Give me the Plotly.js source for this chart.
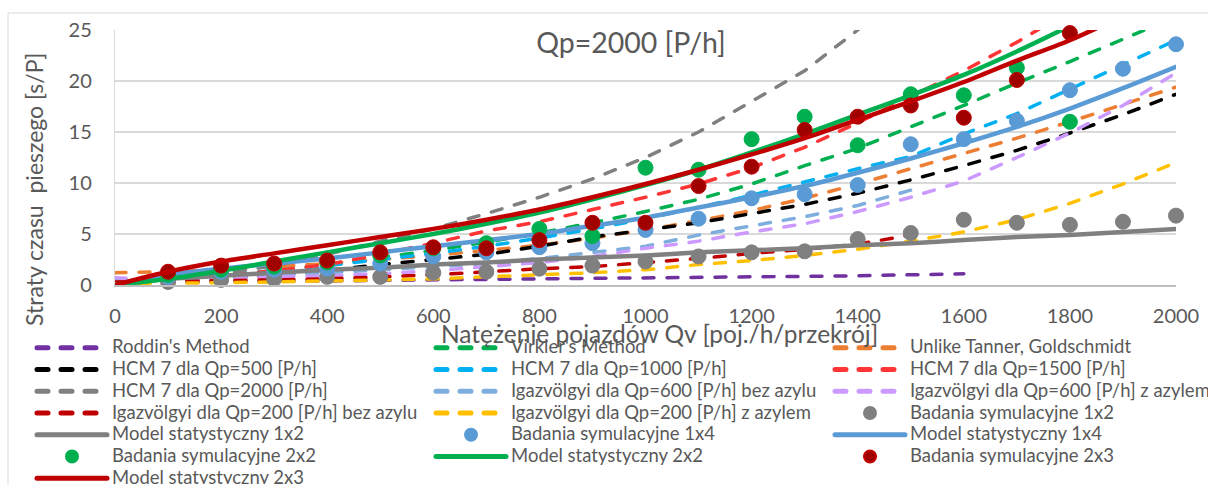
<!DOCTYPE html>
<html>
<head>
<meta charset="utf-8">
<script src="https://cdn.plot.ly/plotly-3.0.1.min.js"></script>
<style>
html,body{margin:0;padding:0;background:#fff;}
#chart{width:1208px;height:484px;}
path.js-line{stroke-linecap:round;}
</style>
</head>
<body>
<div id="chart"></div>
<script>
// ---- data ----
const xFull = [0,100,200,300,400,500,600,700,800,900,1000,1100,1200,1300,1400,1500,1600,1700,1800,1900,2000];
const xTo1600 = [0,100,200,300,400,500,600,700,800,900,1000,1100,1200,1300,1400,1500,1600];
const xTo1500 = [0,100,200,300,400,500,600,700,800,900,1000,1100,1200,1300,1400,1500];
const xPts = [100,200,300,400,500,600,700,800,900,1000,1100,1200,1300,1400,1500,1600,1700,1800,1900,2000];
const xPts1800 = [100,200,300,400,500,600,700,800,900,1000,1100,1200,1300,1400,1500,1600,1700,1800];

const roddin = [0.2,0.25,0.3,0.35,0.4,0.42,0.45,0.5,0.55,0.6,0.65,0.7,0.78,0.85,0.9,1.0,1.1];
const virkler = [0,0.4,0.9,1.4,2.0,2.7,3.4,4.2,5.1,6.1,7.2,8.4,9.9,11.7,13.4,15.5,17.6,19.8,21.9,24.1,26.3];
const unlikeTanner = [1.2,1.3,1.5,1.8,2.1,2.5,2.9,3.4,3.9,4.6,5.4,6.3,7.3,8.5,9.9,11.4,12.9,14.4,16.0,17.7,19.4];
const hcm500 = [0.2,0.4,0.6,0.9,1.4,2.0,2.5,3.0,3.8,4.7,5.4,6.1,7.0,7.9,9.0,10.3,11.7,13.2,14.9,16.7,18.7];
const hcm1000 = [0.3,0.6,1.0,1.4,1.9,2.5,3.1,3.8,4.6,5.5,6.5,7.6,8.8,10.1,11.4,12.6,14.8,16.8,19.2,21.6,24.0];
const hcm1500 = [0.1,0.5,0.9,1.4,2.0,3.0,4.1,5.3,6.2,7.4,8.6,9.9,11.5,13.5,15.9,18.5,21.0,23.8,26.8,30.0,33.0];
const hcm2000 = [0.2,0.6,1.1,1.9,3.0,4.3,5.5,7.0,8.6,10.4,12.5,15.0,18.0,21.0,25.0,29.5];
const igaz600bez = [0.6,0.6,0.8,1.0,1.2,1.5,1.8,2.1,2.6,3.2,3.8,4.9,5.8,6.7,7.8,9.3];
const igaz600z = [0.7,0.5,0.6,0.8,0.9,1.1,1.4,1.8,2.2,2.8,3.6,4.3,5.2,6.0,7.2,8.6,10.2,12.5,14.9,17.6,20.8];
const igaz200bez = [0.3,0.35,0.4,0.5,0.6,0.8,1.0,1.3,1.6,1.8,2.2,2.6,3.1,3.5,4.0,4.9];
const igaz200z = [0.1,0.15,0.2,0.3,0.4,0.5,0.6,0.8,1.0,1.2,1.5,2.0,2.4,2.9,3.5,4.3,5.2,6.4,8.0,9.9,12.0];
const sim1x2 = [0.3,0.5,0.6,0.8,0.8,1.2,1.3,1.6,1.9,2.3,2.8,3.2,3.3,4.5,5.1,6.4,6.1,5.9,6.2,6.8];
const model1x2 = [0,0.6,0.9,1.2,1.5,1.7,2.0,2.2,2.5,2.7,2.9,3.2,3.4,3.6,3.9,4.1,4.4,4.7,4.9,5.2,5.5];
const sim1x4 = [0.8,1.3,1.5,1.6,2.1,2.8,3.2,3.7,4.1,5.4,6.5,8.5,8.9,9.8,13.8,14.3,16.1,19.1,21.2,23.6];
const model1x4 = [0,1.0,1.6,2.1,2.6,3.2,3.8,4.4,5.0,5.8,6.6,7.6,8.6,9.7,11.0,12.4,13.9,15.5,17.3,19.3,21.4];
const sim2x2 = [1.0,1.5,1.8,2.2,2.9,3.6,4.1,5.5,4.8,11.5,11.3,14.3,16.5,13.7,18.7,18.6,21.3,16.0];
const model2x2 = [0,0.6,1.4,2.3,3.2,4.1,5.0,6.0,7.1,8.4,9.8,11.3,13.0,14.8,16.7,18.6,20.6,22.9,25.4,28.0,30.8];
const sim2x3 = [1.3,1.9,2.1,2.4,3.2,3.7,3.6,4.4,6.1,6.1,9.7,11.6,15.2,16.5,17.6,16.4,20.1,24.7];
const model2x3 = [0,1.3,2.3,3.1,3.9,4.7,5.5,6.4,7.4,8.6,9.9,11.3,12.8,14.4,16.2,18.0,19.9,22.0,24.0,26.4,29.0];

const seriesNames = [
  "Roddin's Method","Virkler's Method","Unlike Tanner, Goldschmidt",
  "HCM 7 dla Qp=500 [P/h]","HCM 7 dla Qp=1000 [P/h]","HCM 7 dla Qp=1500 [P/h]",
  "HCM 7 dla Qp=2000 [P/h]","Igazvölgyi dla Qp=600 [P/h] bez azylu","Igazvölgyi dla Qp=600 [P/h] z azylem",
  "Igazvölgyi dla Qp=200 [P/h] bez azylu","Igazvölgyi dla Qp=200 [P/h] z azylem","Badania symulacyjne 1x2",
  "Model statystyczny 1x2","Badania symulacyjne 1x4","Model statystyczny 1x4",
  "Badania symulacyjne 2x2","Model statystyczny 2x2","Badania symulacyjne 2x3",
  "Model statystyczny 2x3"
];
const titleText = "Qp=2000 [P/h]";
const yTitle = "Straty czasu  pieszego [s/P]";
const xTitle = "Natężenie pojazdów Qv [poj./h/przekrój]";

// ---- styling ----
const FONT = "Lato, 'Open Sans', sans-serif";
const TXT = '#595959';
const DASH = '11px,13px';
const legendIds = ['legend','legend2','legend3'];

function nm(i){ return '<span style="font-size:18.5px">' + seriesNames[i] + '</span>'; }
function dashed(i, x, y, color){
  return {type:'scatter', mode:'lines', x:x, y:y, name:nm(i), legend:legendIds[i%3],
    line:{color:color, width:3.5, dash:DASH}, hoverinfo:'skip'};
}
function solid(i, x, y, color){
  return {type:'scatter', mode:'lines', x:x, y:y, name:nm(i), legend:legendIds[i%3],
    line:{color:color, width:4.5, shape:'spline', smoothing:0.8}, hoverinfo:'skip'};
}
function pts(i, x, y, color, edge){
  return {type:'scatter', mode:'markers', x:x, y:y, name:nm(i), legend:legendIds[i%3], cliponaxis:false,
    marker:{color:color, size:15, line:{color:edge||color, width:1}}, hoverinfo:'skip'};
}

const traces = [
  dashed(0, xTo1600, roddin, '#7030A0'),
  dashed(1, xFull, virkler, '#00B050'),
  dashed(2, xFull, unlikeTanner, '#ED7D31'),
  dashed(3, xFull, hcm500, '#000000'),
  dashed(4, xFull, hcm1000, '#00B0F0'),
  dashed(5, xFull, hcm1500, '#FF3535'),
  dashed(6, xTo1500, hcm2000, '#808080'),
  dashed(7, xTo1500, igaz600bez, '#7EAEDD'),
  dashed(8, xFull, igaz600z, '#CC99FF'),
  dashed(9, xTo1500, igaz200bez, '#C00000'),
  dashed(10, xFull, igaz200z, '#FFC000'),
  pts(11, xPts, sim1x2, '#808080'),
  solid(12, xFull, model1x2, '#808080'),
  pts(13, xPts, sim1x4, '#5B9BD5'),
  solid(14, xFull, model1x4, '#5B9BD5'),
  pts(15, xPts1800, sim2x2, '#00B050'),
  solid(16, xFull, model2x2, '#00B050'),
  pts(17, xPts1800, sim2x3, '#A00000', '#C00000'),
  solid(18, xFull, model2x3, '#C00000')
];

const L = 115, R = 32, T = 30, B = 199;
const W = 1208, H = 484;
const gw = W - L - R, gh = H - T - B;
function px2x(p){ return (p - L) / gw; }
function py2y(p){ return (H - B - p) / gh; }

function legendAt(px, py){
  return {x:px2x(px), xanchor:'left', y:py2y(py), yanchor:'top', orientation:'v',
    bgcolor:'rgba(0,0,0,0)', borderwidth:0, itemwidth:70, traceorder:'normal', itemsizing:'constant',
    font:{family:FONT, size:14.4, color:TXT}, itemclick:false, itemdoubleclick:false};
}

const layout = {
  width:W, height:H,
  margin:{l:L, r:R, t:T, b:B, autoexpand:false},
  paper_bgcolor:'#ffffff', plot_bgcolor:'#ffffff',
  font:{family:FONT, color:TXT},
  showlegend:true,
  title:{text:titleText, x:631/W, xanchor:'center', y:1-43/H, yanchor:'middle', yref:'container',
    font:{family:FONT, size:28.5, color:TXT}},
  xaxis:{range:[0,2000], dtick:200, tick0:0, showgrid:false, zeroline:false,
    showline:true, linecolor:'#BFBFBF', linewidth:1.5, ticks:'',
    tickfont:{family:FONT, size:20, color:TXT}, ticklabelstandoff:12, fixedrange:true},
  yaxis:{range:[0,25], dtick:5, tick0:0, showgrid:true, gridcolor:'#D9D9D9', gridwidth:1.2, zeroline:false,
    showline:true, linecolor:'#D9D9D9', linewidth:1.2, ticks:'',
    tickfont:{family:FONT, size:20, color:TXT}, ticklabelstandoff:18, fixedrange:true},
  legend:legendAt(32, 332),
  legend2:legendAt(431, 332),
  legend3:legendAt(830, 332),
  annotations:[
    {text:yTitle, xref:'paper', yref:'paper', x:px2x(34), y:py2y(190), xanchor:'center', yanchor:'middle',
      textangle:-90, showarrow:false, font:{family:FONT, size:23, color:TXT}},
    {text:xTitle, xref:'paper', yref:'paper', x:px2x(659), y:py2y(333), xanchor:'center', yanchor:'middle',
      showarrow:false, font:{family:FONT, size:24.5, color:TXT}}
  ],
  shapes:[
    {type:'rect', xref:'paper', yref:'paper', x0:px2x(8), x1:px2x(1220), y0:py2y(500), y1:py2y(13),
      line:{color:'#D9D9D9', width:1}, fillcolor:'rgba(0,0,0,0)', layer:'below'}
  ]
};

Plotly.newPlot('chart', traces, layout, {displayModeBar:false, staticPlot:true});
</script>
</body>
</html>
